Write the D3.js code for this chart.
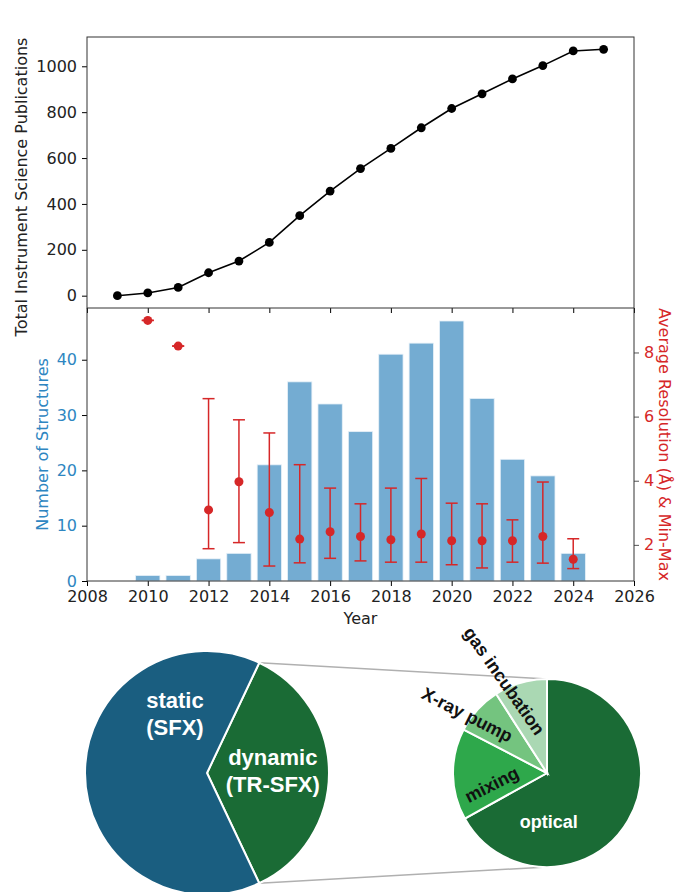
<!DOCTYPE html>
<html>
<head>
<meta charset="utf-8">
<script src="https://cdn.jsdelivr.net/npm/d3@7"></script>
<style>
    body { margin: 0; background: #fff; }
    svg text { font-family: "DejaVu Sans", sans-serif; }
    .pie text { font-family: "Liberation Sans", Arial, sans-serif; font-weight: bold; }
</style>
</head>
<body>
<div id="chart-area"></div>
<script>
// publications per year (cumulative)
var years = [2009, 2010, 2011, 2012, 2013, 2014, 2015, 2016, 2017, 2018, 2019, 2020, 2021, 2022, 2023, 2024, 2025];
var publications = [0, 12, 36, 100, 151, 232, 349, 456, 554, 642, 732, 816, 880, 945, 1003, 1067, 1074];

// structures + resolution
var structYears = [2010, 2011, 2012, 2013, 2014, 2015, 2016, 2017, 2018, 2019, 2020, 2021, 2022, 2023, 2024];
var structures = [1, 1, 4, 5, 21, 36, 32, 27, 41, 43, 47, 33, 22, 19, 5];
var resMean = [9.0, 8.2, 3.09, 3.97, 3.01, 2.18, 2.41, 2.26, 2.16, 2.34, 2.13, 2.13, 2.13, 2.26, 1.55];
var resMin = [9.0, 8.2, 1.88, 2.07, 1.34, 1.44, 1.58, 1.5, 1.46, 1.46, 1.38, 1.28, 1.46, 1.43, 1.26];
var resMax = [9.0, 8.2, 6.56, 5.9, 5.49, 4.5, 3.77, 3.28, 3.77, 4.07, 3.3, 3.28, 2.78, 3.96, 2.19];

var xTicks = [2008, 2010, 2012, 2014, 2016, 2018, 2020, 2022, 2024, 2026];
var pubTicks = [0, 200, 400, 600, 800, 1000];
var structTicks = [0, 10, 20, 30, 40];
var resTicks = [2, 4, 6, 8];

// pies
var modeNames = ["dynamic", "static"];
var modeLabels = [["dynamic", "(TR-SFX)"], ["static", "(SFX)"]];
var modeCounts = [121, 216];
var dynNames = ["optical", "mixing", "X-ray pump", "gas incubation"];
var dynCounts = [81, 19, 10, 11];

var W = 675, H = 892;
var left = 87, right = 634;
var topY = 37, midY = 308, botY = 581;

var blue = "#2e86c1", red = "#d62728", spine = "#333";

var svg = d3.select("#chart-area")
    .append("svg")
    .attr("width", W)
    .attr("height", H);

var x = d3.scaleLinear().domain([2008, 2026]).range([left, right]);

// ---------- top panel ----------
var pubMax = d3.max(publications);
var yPub = d3.scaleLinear()
    .domain([-0.05 * pubMax, pubMax * 1.05])
    .range([midY, topY]);

var topG = svg.append("g");

topG.append("g")
    .attr("transform", "translate(0," + midY + ")")
    .call(d3.axisBottom(x).tickValues(xTicks).tickSize(5).tickFormat(""))
    .call(function (g) { g.select(".domain").remove(); });

topG.append("g")
    .attr("transform", "translate(" + left + ",0)")
    .call(d3.axisLeft(yPub).tickValues(pubTicks).tickSize(5).tickPadding(5).tickFormat(d3.format("d")))
    .call(function (g) {
        g.select(".domain").remove();
        g.selectAll("text").attr("font-size", "16px").attr("fill", "#222");
    });

topG.append("rect")
    .attr("x", left).attr("y", topY)
    .attr("width", right - left).attr("height", midY - topY)
    .attr("fill", "none").attr("stroke", spine).attr("stroke-width", 1);

var line = d3.line()
    .x(function (d, i) { return x(years[i]); })
    .y(function (d) { return yPub(d); });

topG.append("path")
    .datum(publications)
    .attr("d", line)
    .attr("fill", "none")
    .attr("stroke", "#000")
    .attr("stroke-width", 1.6);

topG.selectAll("circle")
    .data(publications)
    .enter()
    .append("circle")
    .attr("cx", function (d, i) { return x(years[i]); })
    .attr("cy", function (d) { return yPub(d); })
    .attr("r", 4.4)
    .attr("fill", "#000");

topG.append("text")
    .attr("transform", "translate(21,187) rotate(-90)")
    .attr("text-anchor", "middle")
    .attr("dominant-baseline", "central")
    .attr("font-size", "16px")
    .attr("fill", "#222")
    .text("Total Instrument Science Publications");

// ---------- middle panel ----------
var yStruct = d3.scaleLinear()
    .domain([0, d3.max(structures) * 1.05])
    .range([botY, midY]);

var rLo = d3.min(resMin), rHi = d3.max(resMax);
var rPad = (rHi - rLo) * 0.05;
var yRes = d3.scaleLinear()
    .domain([rLo - rPad, rHi + rPad])
    .range([botY, midY]);

var mid = svg.append("g");

// bars
mid.selectAll("rect.bar")
    .data(structures)
    .enter()
    .append("rect")
    .attr("class", "bar")
    .attr("x", function (d, i) { return x(structYears[i] - 0.4); })
    .attr("width", x(2008.8) - x(2008))
    .attr("y", function (d) { return yStruct(d); })
    .attr("height", function (d) { return botY - yStruct(d); })
    .attr("fill", "#74acd2")
    .attr("stroke", "#e6f0f8")
    .attr("stroke-width", 0.8);

// x axis
mid.append("g")
    .attr("transform", "translate(0," + botY + ")")
    .call(d3.axisBottom(x).tickValues(xTicks).tickFormat(d3.format("d")).tickSize(5).tickPadding(5))
    .call(function (g) {
        g.select(".domain").remove();
        g.selectAll("text").attr("font-size", "16px").attr("fill", "#222");
    });

// left axis
mid.append("g")
    .attr("transform", "translate(" + left + ",0)")
    .call(d3.axisLeft(yStruct).tickValues(structTicks).tickSize(5).tickPadding(5))
    .call(function (g) {
        g.select(".domain").remove();
        g.selectAll("text").attr("font-size", "16px").attr("fill", blue);
    });

// right axis
mid.append("g")
    .attr("transform", "translate(" + right + ",0)")
    .call(d3.axisRight(yRes).tickValues(resTicks).tickSize(5).tickPadding(5))
    .call(function (g) {
        g.select(".domain").remove();
        g.selectAll("line").attr("stroke", "#555");
        g.selectAll("text").attr("font-size", "16px").attr("fill", red);
    });

// spines
mid.append("path")
    .attr("d", "M" + left + "," + midY + "V" + botY + "H" + right + "V" + midY)
    .attr("fill", "none")
    .attr("stroke", spine)
    .attr("stroke-width", 1);

// error bars
var err = mid.append("g").attr("stroke", red).attr("stroke-width", 1.5);

err.selectAll("line.v")
    .data(resMean)
    .enter()
    .append("line")
    .attr("x1", function (d, i) { return x(structYears[i]); })
    .attr("x2", function (d, i) { return x(structYears[i]); })
    .attr("y1", function (d, i) { return yRes(resMin[i]); })
    .attr("y2", function (d, i) { return yRes(resMax[i]); });

[resMin, resMax].forEach(function (arr) {
    err.append("g")
        .selectAll("line")
        .data(arr)
        .enter()
        .append("line")
        .attr("x1", function (d, i) { return x(structYears[i]) - 6; })
        .attr("x2", function (d, i) { return x(structYears[i]) + 6; })
        .attr("y1", function (d) { return yRes(d); })
        .attr("y2", function (d) { return yRes(d); });
});

mid.selectAll("circle")
    .data(resMean)
    .enter()
    .append("circle")
    .attr("cx", function (d, i) { return x(structYears[i]); })
    .attr("cy", function (d) { return yRes(d); })
    .attr("r", 4.5)
    .attr("fill", red);

mid.append("text")
    .attr("transform", "translate(42," + (midY + botY) / 2 + ") rotate(-90)")
    .attr("text-anchor", "middle")
    .attr("dominant-baseline", "central")
    .attr("font-size", "16px")
    .attr("fill", blue)
    .text("Number of Structures");

mid.append("text")
    .attr("transform", "translate(664," + (midY + botY) / 2 + ") rotate(90)")
    .attr("text-anchor", "middle")
    .attr("dominant-baseline", "central")
    .attr("font-size", "16px")
    .attr("fill", red)
    .text("Average Resolution (Å) & Min-Max");

mid.append("text")
    .attr("x", (left + right) / 2)
    .attr("y", 618)
    .attr("text-anchor", "middle")
    .attr("dominant-baseline", "central")
    .attr("font-size", "16px")
    .attr("fill", "#222")
    .text("Year");

// ---------- pies ----------
var deg = Math.PI / 180;
var c1 = { x: 207, y: 773, r: 122 };
var c2 = { x: 547, y: 773, r: 94 };

var dynShare = modeCounts[0] / d3.sum(modeCounts) * 2 * Math.PI;
var pie1 = d3.pie().sort(null)
    .startAngle(Math.PI / 2 - dynShare / 2)
    .endAngle(Math.PI / 2 - dynShare / 2 + 2 * Math.PI);
var pie2 = d3.pie().sort(null);

var arcs1 = pie1(modeCounts);
var arcs2 = pie2(dynCounts);

var pies = svg.append("g").attr("class", "pie");

// connector lines
var p1a = d3.pointRadial(arcs1[0].startAngle, c1.r);
var p1b = d3.pointRadial(arcs1[0].endAngle, c1.r);
var p2a = d3.pointRadial(0, c2.r);
var p2b = d3.pointRadial(Math.PI, c2.r);
[[p1a, p2a], [p1b, p2b]].forEach(function (pr) {
    pies.append("line")
        .attr("x1", c1.x + pr[0][0]).attr("y1", c1.y + pr[0][1])
        .attr("x2", c2.x + pr[1][0]).attr("y2", c2.y + pr[1][1])
        .attr("stroke", "#b0b0b0")
        .attr("stroke-width", 1.5);
});

var modeColors = ["#1a6b35", "#1a5e80"];
var dynColors = ["#1a6b35", "#2ea84b", "#74c47f", "#aad8b3"];

pies.append("g")
    .attr("transform", "translate(" + c1.x + "," + c1.y + ")")
    .selectAll("path")
    .data(arcs1)
    .enter()
    .append("path")
    .attr("d", d3.arc().innerRadius(0).outerRadius(c1.r))
    .attr("fill", function (d, i) { return modeColors[i]; })
    .attr("stroke", "#fff")
    .attr("stroke-width", 2);

pies.append("g")
    .attr("transform", "translate(" + c2.x + "," + c2.y + ")")
    .selectAll("path")
    .data(arcs2)
    .enter()
    .append("path")
    .attr("d", d3.arc().innerRadius(0).outerRadius(c2.r))
    .attr("fill", function (d, i) { return dynColors[i]; })
    .attr("stroke", "#fff")
    .attr("stroke-width", 2);

// label anchors: angle (deg, clockwise from 12 o'clock), radius fraction, rotation
var modePos = [{ a: 87, f: 0.54 }, { a: 332, f: 0.56 }];
modeLabels.forEach(function (lines, i) {
    var p = d3.pointRadial(modePos[i].a * deg, modePos[i].f * c1.r);
    var t = pies.append("text")
        .attr("x", c1.x + p[0])
        .attr("y", c1.y + p[1])
        .attr("text-anchor", "middle")
        .attr("font-size", "22px")
        .attr("fill", "#fff");
    lines.forEach(function (s, j) {
        t.append("tspan")
            .attr("x", c1.x + p[0])
            .attr("dy", j === 0 ? "-0.2em" : "1.2em")
            .text(s);
    });
});

var dynPos = [
    { a: 178, f: 0.52, rot: 0, fill: "#fff" },
    { a: 258, f: 0.6, rot: -27, fill: "#111" },
    { a: 306, f: 1.05, rot: 27, fill: "#111" },
    { a: 335, f: 1.08, rot: 55, fill: "#111" }
];
dynNames.forEach(function (s, i) {
    var p = d3.pointRadial(dynPos[i].a * deg, dynPos[i].f * c2.r);
    pies.append("text")
        .attr("transform", "translate(" + (c2.x + p[0]) + "," + (c2.y + p[1]) + ") rotate(" + dynPos[i].rot + ")")
        .attr("text-anchor", "middle")
        .attr("dominant-baseline", "central")
        .attr("font-size", "18px")
        .attr("fill", dynPos[i].fill)
        .text(s);
});
</script>
</body>
</html>
